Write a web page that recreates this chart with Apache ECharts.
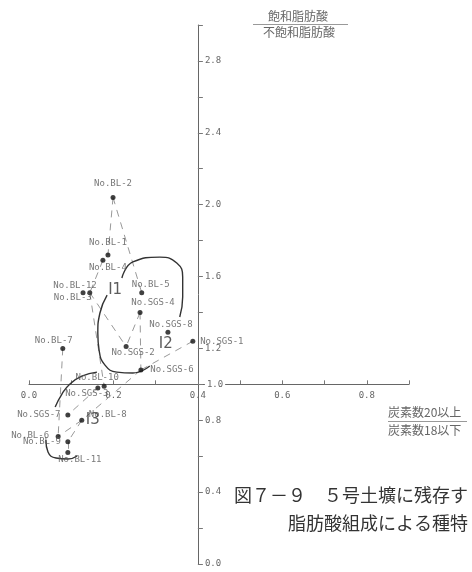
<!DOCTYPE html>
<html>
<head>
<meta charset="utf-8">
<script src="https://cdn.jsdelivr.net/npm/echarts@6/dist/echarts.min.js"></script>
<style>
  html, body { margin: 0; padding: 0; background: #fff; }
  #main { width: 472px; height: 572px; }
</style>
</head>
<body>
<div id="main"></div>
<script>
var chart = echarts.init(document.getElementById("main"), null);

// 試料名と値（横：炭素数20以上/18以下、縦：飽和/不飽和）
var names = ["No.BL-2", "No.BL-1", "No.BL-4", "No.BL-12", "No.BL-3", "No.BL-5",
  "No.SGS-4", "No.SGS-8", "No.SGS-1", "No.SGS-2", "No.BL-7", "No.SGS-6",
  "No.BL-10", "No.SGS-3", "No.SGS-7", "No.BL-8", "No.BL-6", "No.BL-9", "No.BL-11"];
var xVals = [0.199, 0.187, 0.175, 0.128, 0.144, 0.267, 0.263, 0.329, 0.388, 0.230,
  0.080, 0.265, 0.178, 0.163, 0.092, 0.125, 0.069, 0.092, 0.092];
var yVals = [2.04, 1.72, 1.69, 1.51, 1.51, 1.51, 1.40, 1.29, 1.24, 1.21,
  1.20, 1.08, 0.99, 0.98, 0.83, 0.80, 0.71, 0.68, 0.62];

// 破線でつながる試料
var links = [
  ["No.BL-2", "No.BL-1"], ["No.BL-2", "No.BL-5"], ["No.BL-4", "No.BL-3"],
  ["No.BL-3", "No.BL-10"], ["No.BL-3", "No.SGS-2"], ["No.SGS-4", "No.SGS-2"],
  ["No.SGS-4", "No.SGS-6"], ["No.SGS-1", "No.SGS-6"], ["No.BL-7", "No.BL-6"],
  ["No.SGS-3", "No.SGS-7"], ["No.BL-8", "No.BL-6"], ["No.BL-8", "No.BL-9"],
  ["No.BL-9", "No.BL-11"], ["No.SGS-6", "No.BL-8"]
];

// グループの囲み線
var curveA = [[0.220, 1.592], [0.246, 1.681], [0.310, 1.708], [0.350, 1.675],
  [0.364, 1.597], [0.364, 1.486], [0.357, 1.375]];
var curveB = [[0.185, 1.497], [0.168, 1.397], [0.163, 1.285], [0.166, 1.191],
  [0.180, 1.107], [0.208, 1.068], [0.246, 1.063], [0.286, 1.102]];
var curveC1 = [[0.161, 1.068], [0.125, 1.046], [0.097, 1.002], [0.078, 0.946], [0.062, 0.874]];
var curveC2 = [[0.040, 0.690], [0.045, 0.623], [0.064, 0.590], [0.092, 0.584], [0.114, 0.601]];

var groupNames = ["I1", "I2", "I3"];
var groupX = [0.204, 0.324, 0.151];
var groupY = [1.525, 1.224, 0.801];

// ラベルのずれ（px）
var labelOffset = {
  "No.BL-2": [0, -14], "No.BL-1": [0, -12], "No.BL-4": [5, 7], "No.BL-12": [-8, -7],
  "No.BL-3": [-17, 5], "No.BL-5": [9, -8], "No.SGS-4": [13, -10], "No.SGS-8": [3, -8],
  "No.SGS-1": [29, 0], "No.SGS-2": [7, 6], "No.BL-7": [-9, -8], "No.SGS-6": [31, 0],
  "No.BL-10": [-7, -8], "No.SGS-3": [-11, 6], "No.SGS-7": [-29, 0], "No.BL-8": [26, -6],
  "No.BL-6": [-28, -1], "No.BL-9": [-26, 0], "No.BL-11": [12, 7]
};

// 軸の範囲と交点 (0.4, 1.0)
var xMin = 0, xMax = 0.9, yMin = 0, yMax = 3.0;
var crossX = 0.4, crossY = 1.0;
var G = { left: 29, top: 25, width: 380, height: 539 };
var yAxisOffset = -(crossX - xMin) / (xMax - xMin) * G.width;
var xAxisOffset = -(crossY - yMin) / (yMax - yMin) * G.height;

var pts = names.map(function (n, i) {
  return { name: n, value: [xVals[i], yVals[i]], label: { offset: labelOffset[n] } };
});

var linkData = links.map(function (l) {
  var a = names.indexOf(l[0]), b = names.indexOf(l[1]);
  return { coords: [[xVals[a], yVals[a]], [xVals[b], yVals[b]]] };
});

var groupData = groupNames.map(function (g, i) {
  return { name: g, value: [groupX[i], groupY[i]] };
});

function curveSeries(c) {
  return {
    type: "line",
    data: c,
    smooth: true,
    showSymbol: false,
    silent: true,
    lineStyle: { color: "#333", width: 1.4 },
    z: 3
  };
}

var monoFont = "'DejaVu Sans Mono', 'Liberation Mono', monospace";

var option = {
  animation: false,
  backgroundColor: "#fff",
  grid: {
    left: G.left, top: G.top, width: G.width, height: G.height,
    containLabel: false, outerBoundsMode: "none"
  },
  xAxis: {
    type: "value",
    min: xMin,
    max: xMax,
    interval: 0.1,
    position: "bottom",
    offset: xAxisOffset,
    axisLine: { onZero: false, lineStyle: { color: "#666", width: 1 } },
    axisTick: { inside: true, length: 4, lineStyle: { color: "#777" } },
    splitLine: { show: false },
    axisLabel: {
      margin: 7,
      fontFamily: monoFont,
      fontSize: 9,
      color: "#666",
      formatter: function (v) {
        var a = Math.round(v * 10);
        if (a % 2 !== 0) return "";
        return (a / 10).toFixed(1);
      }
    }
  },
  yAxis: {
    type: "value",
    min: yMin,
    max: yMax,
    interval: 0.2,
    position: "left",
    offset: yAxisOffset,
    axisLine: { onZero: false, lineStyle: { color: "#666", width: 1 } },
    axisTick: { inside: true, length: 5, lineStyle: { color: "#777" } },
    splitLine: { show: false },
    axisLabel: {
      inside: true,
      margin: 7,
      fontFamily: monoFont,
      fontSize: 9,
      color: "#666",
      formatter: function (v) {
        var a = Math.round(v * 10);
        if (a === 10) return "{w|1.0}";
        if (a % 4 !== 0) return "";
        return (a / 10).toFixed(1);
      },
      rich: {
        w: { backgroundColor: "#fff", fontFamily: monoFont, fontSize: 9, color: "#666", padding: [0, 2] }
      }
    }
  },
  series: [
    {
      type: "lines",
      coordinateSystem: "cartesian2d",
      silent: true,
      data: linkData,
      lineStyle: { color: "#999", width: 1, type: [7, 6], opacity: 1 },
      z: 2
    },
    curveSeries(curveA),
    curveSeries(curveB),
    curveSeries(curveC1),
    curveSeries(curveC2),
    {
      type: "scatter",
      data: pts,
      symbolSize: 5,
      itemStyle: { color: "#111" },
      label: {
        show: true,
        position: "inside",
        formatter: "{b}",
        fontFamily: monoFont,
        fontSize: 9,
        color: "#555"
      },
      z: 5
    },
    {
      type: "scatter",
      data: groupData,
      symbolSize: 0,
      silent: true,
      label: {
        show: true,
        position: "inside",
        formatter: "{b}",
        fontFamily: "'DejaVu Sans', sans-serif",
        fontSize: 15,
        color: "#333"
      },
      z: 5
    }
  ],
  graphic: [
    { type: "text", left: 268, top: 10, style: { text: "飽和脂肪酸", font: "12px 'Noto Sans CJK JP'", fill: "#666" } },
    { type: "rect", left: 253, top: 24, shape: { width: 95, height: 0.8 }, style: { fill: "#777" } },
    { type: "text", left: 263, top: 26, style: { text: "不飽和脂肪酸", font: "12px 'Noto Sans CJK JP'", fill: "#666" } },
    { type: "text", left: 388, top: 406, style: { text: "炭素数20以上", font: "12px 'Noto Sans CJK JP'", fill: "#666" } },
    { type: "rect", left: 388, top: 421, shape: { width: 79, height: 0.8 }, style: { fill: "#777" } },
    { type: "text", left: 388, top: 424, style: { text: "炭素数18以下", font: "12px 'Noto Sans CJK JP'", fill: "#666" } },
    { type: "text", left: 234, top: 486, style: { text: "図７－９　５号土壙に残存す", font: "18px 'Noto Sans CJK JP'", fill: "#333" } },
    { type: "text", left: 288, top: 514, style: { text: "脂肪酸組成による種特", font: "18px 'Noto Sans CJK JP'", fill: "#333" } }
  ]
};
chart.setOption(option);
</script>
</body>
</html>
